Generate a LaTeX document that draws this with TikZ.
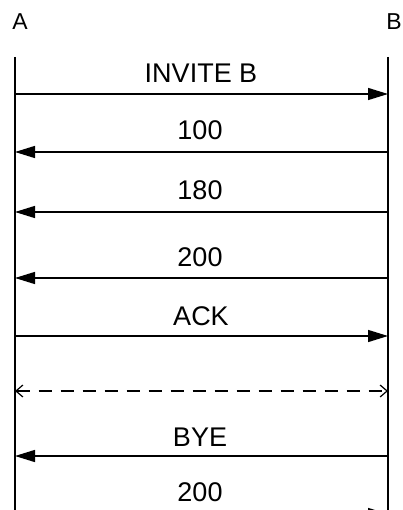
\documentclass[tikz,border=0pt]{standalone}
\usepackage{fontspec}
\setmainfont{Liberation Sans}
\usetikzlibrary{arrows.meta}
\tikzset{
  lifeline/.style={line width=1.4pt},
  msg/.style={line width=1.4pt,-{Triangle[length=20pt,width=12pt]}},
  dmsg/.style={line width=1.2pt,dash pattern=on 13pt off 9pt,{Straight Barb[length=7pt,width=12pt]}-{Straight Barb[length=7pt,width=12pt]}},
  lbl/.style={font=\fontsize{27}{27}\selectfont,inner sep=0pt},
  party/.style={font=\fontsize{23}{23}\selectfont,inner sep=0pt}
}
\begin{document}
\begin{tikzpicture}[x=1pt,y=-1pt]
\useasboundingbox (0,0) rectangle (403,510);
\clip (0,0) rectangle (403,510);
\node[party] (A) at (20,22) {A};
\node[party] (B) at (394,22) {B};
\coordinate (at) at (15,57);
\coordinate (bt) at (388,57);
\coordinate (ae) at (15,530);
\coordinate (be) at (388,530);
\draw[lifeline] (at) -- (ae);
\draw[lifeline] (bt) -- (be);
% message endpoints
\foreach \n/\y in {1/94,2/152,3/212,4/278,5/336,6/391,7/456,8/514}{
  \coordinate (a\n) at (15,\y);
  \coordinate (b\n) at (388,\y);
}
\draw[msg] (a1) -- (b1);
\draw[msg] (b2) -- (a2);
\draw[msg] (b3) -- (a3);
\draw[msg] (b4) -- (a4);
\draw[msg] (a5) -- (b5);
\draw[dmsg] (a6) -- (b6);
\draw[msg] (b7) -- (a7);
\draw[msg] (a8) -- (b8);
\node[lbl] (l1) at (201,73) {INVITE B};
\node[lbl] (l2) at (200,130) {100};
\node[lbl] (l3) at (200,190) {180};
\node[lbl] (l4) at (200,257) {200};
\node[lbl] (l5) at (201,316) {ACK};
\node[lbl] (l7) at (200,437) {BYE};
\node[lbl] (l8) at (200,492) {200};
\end{tikzpicture}
\end{document}
